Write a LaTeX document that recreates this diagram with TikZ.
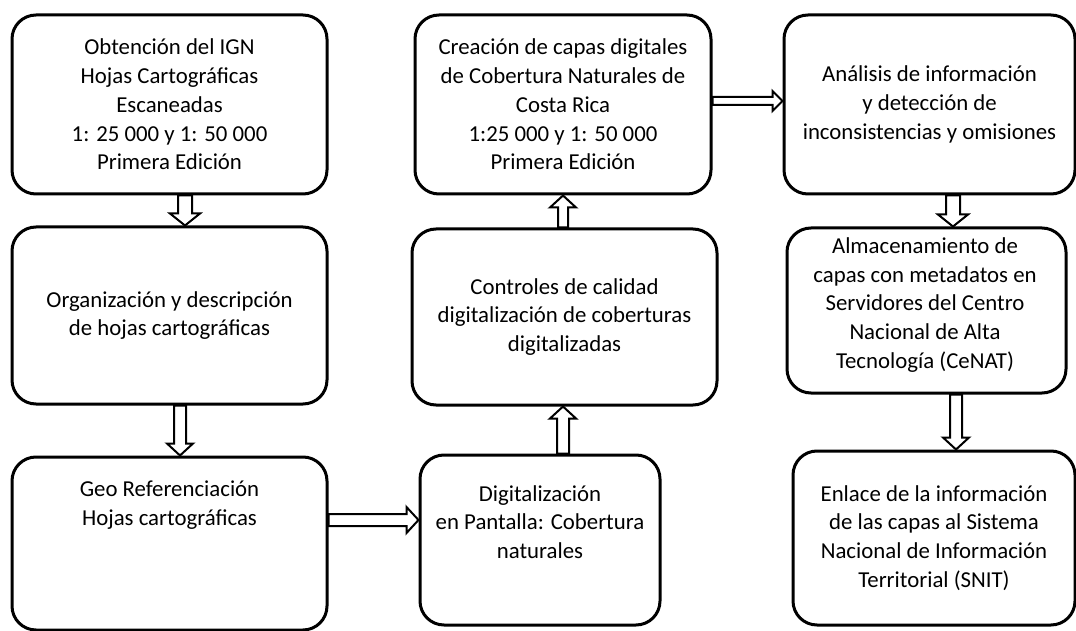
\documentclass[tikz,border=0pt]{standalone}
\usepackage{fontspec}
\setmainfont{Carlito}
\usetikzlibrary{calc}
\tikzset{
  box/.style={draw, line width=3pt, rounded corners=24pt, inner sep=0pt},
  txt/.style={align=center, inner sep=0pt, font=\fontsize{22.8}{28.8}\selectfont},
  hollow/.style n args={3}{draw, line width=2pt, line join=miter,
    to path={let \p1=(\tikztostart), \p2=(\tikztotarget), \p3=($(\p2)!#3pt!(\p1)$) in
      ($(\p1)!#1pt!90:(\p2)$) -- ($(\p3)!#1pt!-90:(\p1)$) -- ($(\p3)!#2pt!-90:(\p1)$) -- (\p2)
      -- ($(\p3)!#2pt!90:(\p1)$) -- ($(\p3)!#1pt!90:(\p1)$) -- ($(\p1)!#1pt!-90:(\p2)$) -- cycle}}
}
\begin{document}
\begin{tikzpicture}[x=1pt,y=-1pt]
\useasboundingbox (0,0) rectangle (1076,631);
% boxes
\node[box, minimum width=315pt, minimum height=179pt] (b1) at (169.5,104.5) {};
\node[box, minimum width=315pt, minimum height=177pt] (b2) at (169.5,315.5) {};
\node[box, minimum width=315pt, minimum height=173pt] (b3) at (169.5,543.5) {};
\node[box, minimum width=240pt, minimum height=170pt] (b4) at (540,540) {};
\node[box, minimum width=305pt, minimum height=176pt] (b5) at (564.5,317) {};
\node[box, minimum width=296pt, minimum height=179pt] (b6) at (563,104.5) {};
\node[box, minimum width=291pt, minimum height=179pt] (b7) at (929.5,104.5) {};
\node[box, minimum width=279pt, minimum height=165pt] (b8) at (926.5,310.5) {};
\node[box, minimum width=282pt, minimum height=174pt] (b9) at (934,538) {};
% texts
\node[txt] (t1) at (b1.center) {Obtención del IGN\\Hojas Cartográficas\\Escaneadas\\1: 25 000 y 1: 50 000\\Primera Edición};
\node[txt] (t2) at (b2.center) {Organización y descripción\\de hojas cartográficas};
\node[txt] (t3) at ($(b3.center)+(0,-38)$) {Geo Referenciación\\Hojas cartográficas};
\node[txt] (t4) at ($(b4.center)+(0,-18)$) {Digitalización\\en Pantalla: Cobertura\\naturales};
\node[txt] (t5) at (b5.center) {Controles de calidad\\digitalización de coberturas\\digitalizadas};
\node[txt] (t6) at (b6.center) {Creación de capas digitales\\de Cobertura Naturales de\\Costa Rica\\1:25 000 y 1: 50 000\\Primera Edición};
\node[txt] (t7) at (b7.center) {Análisis de información\\y detección de\\inconsistencias y omisiones};
\node[txt] (t8) at ($(b8.center)+(-1.5,-5.5)$) {Almacenamiento de\\capas con metadatos en\\Servidores del Centro\\Nacional de Alta\\Tecnología (CeNAT)};
\node[txt] (t9) at (b9.center) {Enlace de la información\\de las capas al Sistema\\Nacional de Información\\Territorial (SNIT)};
% arrow end points
\coordinate (a1s) at ($(b1.south)+(15.5,0)$);
\coordinate (a1e) at ($(b2.north)+(15.5,0)$);
\coordinate (a2s) at ($(b2.south)+(10.5,0)$);
\coordinate (a2e) at ($(b3.north)+(10.5,0)$);
\coordinate (a3s) at ($(b3.east)+(0,-23.5)$);
\coordinate (a3e) at ($(b4.west)+(0,-20)$);
\coordinate (a4s) at ($(b4.north)+(23,0)$);
\coordinate (a4e) at ($(b5.south)+(-1.5,0)$);
\coordinate (a5s) at ($(b5.north)+(-1.5,0)$);
\coordinate (a5e) at (b6.south);
\coordinate (a6s) at ($(b6.east)+(0,-3.5)$);
\coordinate (a6e) at ($(b7.west)+(0,-3.5)$);
\coordinate (a7s) at ($(b7.south)+(23.5,0)$);
\coordinate (a7e) at ($(b8.north)+(26.5,0)$);
\coordinate (a8s) at ($(b8.south)+(29.5,0)$);
\coordinate (a8e) at ($(b9.north)+(22,0)$);
% arrows
\draw[hollow={7}{15}{12}] (a1s) to (a1e);
\draw[hollow={6}{13}{12}] (a2s) to (a2e);
\draw[hollow={6}{13}{12}] (a3s) to (a3e);
\draw[hollow={6}{13}{12}] (a4s) to (a4e);
\draw[hollow={5}{13}{12}] (a5s) to (a5e);
\draw[hollow={4}{10}{10}] (a6s) to (a6e);
\draw[hollow={7}{15}{12}] (a7s) to (a7e);
\draw[hollow={6}{13}{12}] (a8s) to (a8e);
\end{tikzpicture}
\end{document}
